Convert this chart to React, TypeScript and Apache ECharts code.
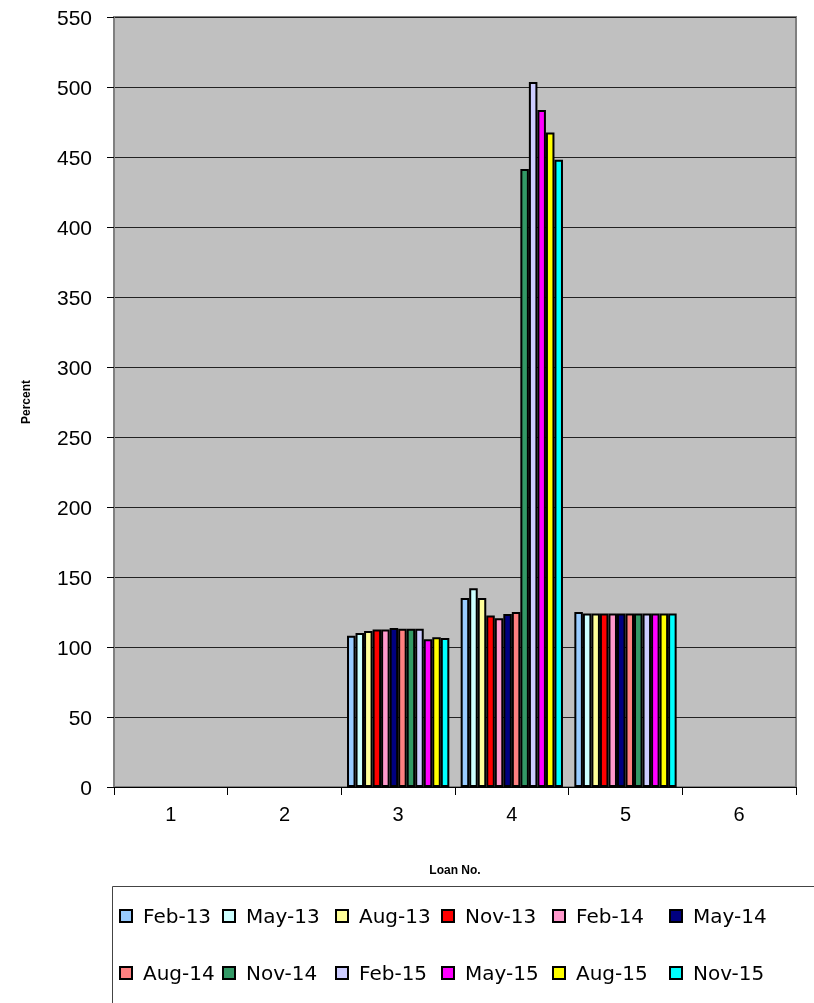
import React, { useEffect, useRef } from "react";
import * as echarts from "echarts";

const categories = ["1", "2", "3", "4", "5", "6"];
const seriesNames = ["Feb-13", "May-13", "Aug-13", "Nov-13", "Feb-14", "May-14", "Aug-14", "Nov-14", "Feb-15", "May-15", "Aug-15", "Nov-15"];
const seriesColors = ["#99CCFF", "#CCFFFF", "#FFFF99", "#FF0000", "#FF99CC", "#000080", "#FF8080", "#339966", "#CCCCFF", "#FF00FF", "#FFFF00", "#00FFFF"];

const feb13 = [null, null, 108, 135, 125, null];
const may13 = [null, null, 110, 142, 124, null];
const aug13 = [null, null, 111.5, 135, 124, null];
const nov13 = [null, null, 112.5, 122.5, 124, null];
const feb14 = [null, null, 112.5, 120.5, 124, null];
const may14 = [null, null, 113.5, 123.5, 124, null];
const aug14 = [null, null, 113, 125, 124, null];
const nov14 = [null, null, 113, 441.5, 124, null];
const feb15 = [null, null, 113, 503.5, 124, null];
const may15 = [null, null, 105.5, 483.5, 124, null];
const aug15 = [null, null, 107, 467.5, 124, null];
const nov15 = [null, null, 106.5, 448, 124, null];
const seriesValues = [feb13, may13, aug13, nov13, feb14, may14, aug14, nov14, feb15, may15, aug15, nov15];

const yTicks = { min: 0, max: 550, interval: 50 };

const legendCols = [119, 222, 335, 441, 552, 669];
const legendRows = [906, 963];

export default function App() {
  const ref = useRef<HTMLDivElement>(null);
  useEffect(() => {
    if (!ref.current) return;
    const chart = echarts.init(ref.current, null, { renderer: "svg" });
    const legendFont = "'DejaVu Sans', sans-serif";
    const arial = "'Liberation Sans', Arial, sans-serif";
    const legends = seriesNames.map((name, i) => ({
      data: [{ name, icon: "rect" }],
      left: legendCols[i % 6],
      top: legendRows[Math.floor(i / 6)],
      itemWidth: 12,
      itemHeight: 12,
      padding: 0,
      selectedMode: false,
      textStyle: { fontFamily: legendFont, fontSize: 20, color: "#000", padding: [0, 0, 0, 6] },
    }));
    chart.setOption({
      animation: false,
      grid: {
        left: 114,
        top: 17,
        right: 18,
        bottom: 216,
        show: true,
        backgroundColor: "#C0C0C0",
        borderColor: "#808080",
        borderWidth: 2,
      },
      legend: legends,
      xAxis: {
        type: "category",
        data: categories,
        name: "Loan No.",
        nameLocation: "middle",
        nameGap: 77,
        nameTextStyle: { fontFamily: arial, fontSize: 12, fontWeight: "bold", color: "#000" },
        axisLine: { lineStyle: { color: "#000", width: 1 } },
        axisTick: { show: true, length: 8, lineStyle: { color: "#000" }, alignWithLabel: false },
        axisLabel: { fontFamily: arial, fontSize: 20, color: "#000", margin: 17 },
        splitLine: { show: false },
      },
      yAxis: {
        type: "value",
        min: yTicks.min,
        max: yTicks.max,
        interval: yTicks.interval,
        name: "Percent",
        nameLocation: "middle",
        nameGap: 82,
        nameRotate: 90,
        nameTextStyle: { fontFamily: arial, fontSize: 12, fontWeight: "bold", color: "#000" },
        axisLine: { show: true, lineStyle: { color: "#808080", width: 2 } },
        axisTick: { show: true, length: 7, lineStyle: { color: "#000" } },
        axisLabel: { fontFamily: arial, fontSize: 21, color: "#000", margin: 22 },
        splitLine: { show: true, lineStyle: { color: "#222", width: 1 } },
      },
      series: seriesNames.map((name, i) => ({
        name,
        type: "bar",
        data: seriesValues[i],
        barGap: "0%",
        barCategoryGap: "10%",
        itemStyle: { color: seriesColors[i], borderColor: "#000", borderWidth: 2 },
      })),
      graphic: [
        {
          type: "rect",
          left: 110,
          top: 884,
          shape: { width: 720, height: 140 },
          style: { fill: "none", stroke: "#444", lineWidth: 1 },
          z: -1,
        },
      ],
    });
    return () => chart.dispose();
  }, []);
  return <div ref={ref} style={{ position: "fixed", left: 0, top: 0, width: 814, height: 1003 }} />;
}
